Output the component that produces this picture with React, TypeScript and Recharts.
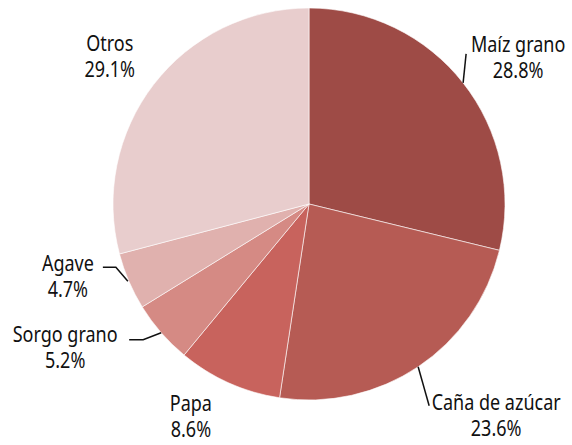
import { Cell, Pie, PieChart } from "recharts";

const CROPS = ["Maíz grano", "Caña de azúcar", "Papa", "Sorgo grano", "Agave", "Otros"];
const SHARES = [28.8, 23.6, 8.6, 5.2, 4.7, 29.1];
const COLORS = ["#9e4b46", "#b65b54", "#c8635d", "#d58a84", "#e0b1ae", "#e8cdcd"];

// label placement relative to the slice's outer edge point (layout only)
const LABEL_LAYOUT = [
  { line: [[0, 0], [3, -29]], tx: 55, ty: -31 },
  { line: [[0, 0], [11, 39]], tx: 78, ty: 43 },
  { line: [], tx: -38, ty: 28 },
  { line: [[0, 0], [-18, 7], [-32, 7]], tx: -96, ty: 9 },
  { line: [[-1, 0], [-13, -14], [-26, -14]], tx: -61, ty: -10 },
  { line: [], tx: -44, ty: -33 },
];

const data = CROPS.map((name, i) => ({ name, value: SHARES[i] }));
const RAD = Math.PI / 180;

function Txt({ x, y, children }: { x: number; y: number; children: string }) {
  return (
    <text
      transform={`translate(${x},${y}) scale(0.8,1)`}
      textAnchor="middle"
      fill="#111"
      fontSize={22.5}
      fontFamily="'Noto Sans', sans-serif"
    >
      {children}
    </text>
  );
}

function renderLabel(props: any) {
  const { cx, cy, midAngle, outerRadius, index, name, value } = props;
  const x0 = cx + outerRadius * Math.cos(-midAngle * RAD);
  const y0 = cy + outerRadius * Math.sin(-midAngle * RAD);
  const lay = LABEL_LAYOUT[index];
  const pts = lay.line.map(([dx, dy]) => `${x0 + dx},${y0 + dy}`).join(" ");
  return (
    <g key={`lbl-${index}`}>
      {lay.line.length > 0 && (
        <polyline points={pts} fill="none" stroke="#111" strokeWidth={1.5} />
      )}
      <Txt x={x0 + lay.tx} y={y0 + lay.ty}>{name}</Txt>
      <Txt x={x0 + lay.tx} y={y0 + lay.ty + 26}>{`${value.toFixed(1)}%`}</Txt>
    </g>
  );
}

export default function App() {
  return (
    <div style={{ position: "absolute", left: 0, top: 0, background: "#fff" }}>
      <PieChart width={572} height={445} margin={{ top: 0, right: 0, bottom: 0, left: 0 }}>
        <Pie
          data={data}
          dataKey="value"
          nameKey="name"
          cx={309}
          cy={204}
          outerRadius={196}
          startAngle={90}
          endAngle={-270}
          stroke="#fff"
          strokeWidth={0.6}
          label={renderLabel}
          labelLine={false}
          isAnimationActive={false}
        >
          {data.map((d, i) => (
            <Cell key={d.name} fill={COLORS[i]} />
          ))}
        </Pie>
      </PieChart>
    </div>
  );
}
